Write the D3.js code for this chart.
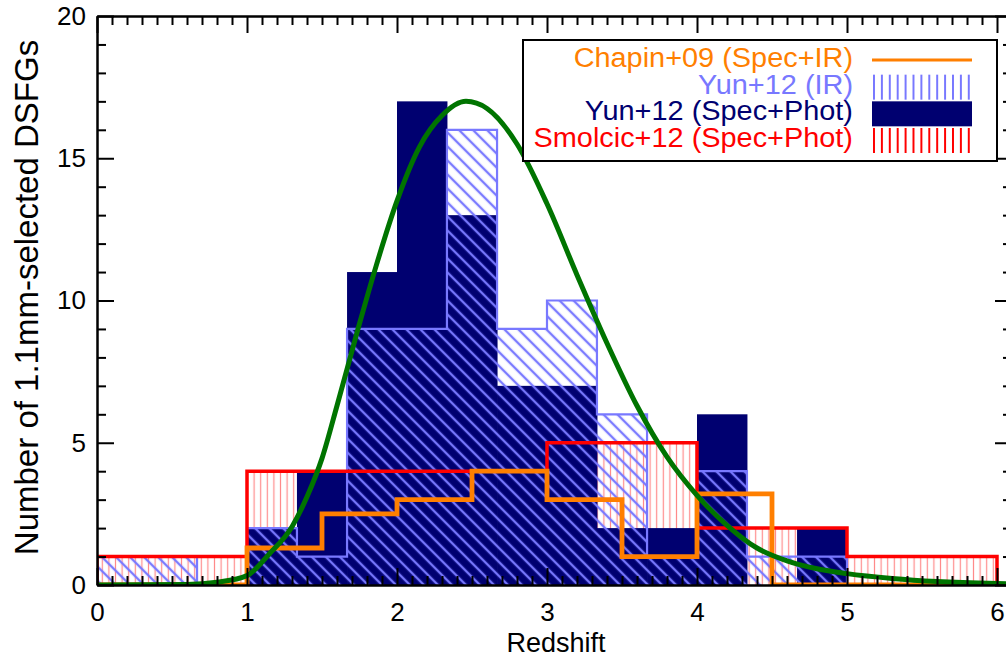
<!DOCTYPE html>
<html>
<head>
<meta charset="utf-8">
<script src="https://cdn.jsdelivr.net/npm/d3@7"></script>
<style>
  body { margin: 0; background: #fff; }
  svg { display: block; font-family: "Liberation Sans", Arial, Helvetica, sans-serif; }
</style>
</head>
<body>
<div id="chart"></div>
<script>
// Yun+12 histograms (bins of 1/3 in z)
const yunEdges = [0, 0.333, 0.667, 1, 1.333, 1.667, 2, 2.333, 2.667, 3, 3.333, 3.667, 4, 4.333, 4.667, 5];
const yunSpecPhot = [0, 0, 0, 2, 4, 11, 17, 13, 7, 7, 2, 2, 6, 0, 2];
const yunIR = [1, 1, 0, 2, 1, 9, 9, 16, 9, 10, 6, 1, 4, 1, 1];

// Smolcic+12 (bins of 1)
const smolcicEdges = [0, 1, 2, 3, 4, 5, 6];
const smolcic = [1, 4, 4, 5, 2, 1];

// Chapin+09 (bins of 0.5)
const chapinEdges = [0, 0.5, 1, 1.5, 2, 2.5, 3, 3.5, 4, 4.5, 5, 5.5, 6];
const chapin = [0, 0, 1.3, 2.5, 3, 4, 3, 1, 3.2, 0, 0, 0];

// model curve
const curveZ = [0, 0.6, 0.8, 1.0, 1.15, 1.3, 1.4, 1.5, 1.6, 1.74, 1.86, 2.0, 2.15, 2.3, 2.46, 2.6, 2.8, 3.0, 3.2, 3.4, 3.6, 3.8, 4.0, 4.2, 4.4, 4.6, 4.8, 5.0, 5.3, 5.6, 6.0, 6.1];
const curveN = [0, 0.02, 0.1, 0.33, 1.1, 2.05, 3.1, 4.45, 6.3, 9.0, 11.2, 13.5, 15.4, 16.5, 17.0, 16.75, 15.5, 13.4, 10.9, 8.5, 6.3, 4.5, 3.15, 2.1, 1.3, 0.85, 0.57, 0.4, 0.23, 0.12, 0.05, 0.04];

const xTicks = [0, 1, 2, 3, 4, 5, 6];
const yTicks = [0, 5, 10, 15, 20];

const legendItems = [
  { label: "Chapin+09 (Spec+IR)", color: "#ff7f00", kind: "line" },
  { label: "Yun+12 (IR)", color: "#7878ff", kind: "legIR" },
  { label: "Yun+12 (Spec+Phot)", color: "#000070", kind: "solid" },
  { label: "Smolcic+12 (Spec+Phot)", color: "#ff0000", kind: "legRed" },
];

const width = 1006, height = 658;
const navy = "#000070", light = "#7878ff", red = "#ff0000", orange = "#ff7f00", green = "#007400";

const svg = d3.select("#chart").append("svg").attr("width", width).attr("height", height);

const x = d3.scaleLinear().domain([0, 6.1]).range([97, 1012]);
const y = d3.scaleLinear().domain([0, 20]).range([585, 16]);

const defs = svg.append("defs");
defs.append("pattern")
  .attr("id", "blueHatch").attr("patternUnits", "userSpaceOnUse")
  .attr("width", 9.9).attr("height", 9.9).attr("patternTransform", "rotate(45)")
  .append("line").attr("x1", 0).attr("x2", 9.9).attr("y1", 4.95).attr("y2", 4.95)
  .attr("stroke", light).attr("stroke-width", 2.4);
defs.append("pattern")
  .attr("id", "redHatch").attr("patternUnits", "userSpaceOnUse")
  .attr("width", 6.6).attr("height", 10)
  .append("line").attr("x1", 3.3).attr("x2", 3.3).attr("y1", 0).attr("y2", 10)
  .attr("stroke", "#ff8a8a").attr("stroke-width", 1.2);
[["legIR", light], ["legRed", red]].forEach(([id, c]) => {
  defs.append("pattern")
    .attr("id", id).attr("patternUnits", "userSpaceOnUse")
    .attr("x", 873).attr("width", 7.9).attr("height", 10)
    .append("line").attr("x1", 1).attr("x2", 1).attr("y1", 0).attr("y2", 10)
    .attr("stroke", c).attr("stroke-width", 2);
});
defs.append("clipPath").attr("id", "plotClip")
  .append("rect").attr("x", 97).attr("y", 16).attr("width", 915).attr("height", 569);

// step outline of a histogram, closed down to zero at both ends
function stepPoints(edges, vals) {
  const pts = [[edges[0], 0]];
  vals.forEach((v, i) => {
    pts.push([edges[i], v]);
    pts.push([edges[i + 1], v]);
  });
  pts.push([edges[edges.length - 1], 0]);
  return pts;
}
const line = d3.line().x((d) => x(d[0])).y((d) => y(d[1]));

const plot = svg.append("g").attr("clip-path", "url(#plotClip)");

// Smolcic hatch
plot.append("path")
  .attr("d", line(stepPoints(smolcicEdges, smolcic)) + "Z")
  .attr("fill", "url(#redHatch)");

// Yun spec+phot solid bars
plot.selectAll(".navy")
  .data(yunSpecPhot)
  .enter()
  .append("rect")
  .attr("class", "navy")
  .attr("x", (d, i) => x(yunEdges[i]))
  .attr("width", (d, i) => x(yunEdges[i + 1]) - x(yunEdges[i]) + 0.5)
  .attr("y", (d) => y(d))
  .attr("height", (d) => y(0) - y(d))
  .attr("fill", navy);

// Yun IR hatch + outline
const irPts = stepPoints(yunEdges, yunIR);
plot.append("path").attr("d", line(irPts) + "Z").attr("fill", "url(#blueHatch)");
plot.append("path").attr("d", line(irPts))
  .attr("fill", "none").attr("stroke", light).attr("stroke-width", 2.2);

// Smolcic outline
plot.append("path").attr("d", line(stepPoints(smolcicEdges, smolcic)))
  .attr("fill", "none").attr("stroke", red).attr("stroke-width", 3.5);

// Chapin outline
plot.append("path").attr("d", line(stepPoints(chapinEdges, chapin)))
  .attr("fill", "none").attr("stroke", orange).attr("stroke-width", 4.8);

// model curve
const curveData = curveZ.map((z, i) => [z, curveN[i]]);
svg.append("path")
  .attr("d", line.curve(d3.curveMonotoneX)(curveData))
  .attr("fill", "none").attr("stroke", green).attr("stroke-width", 5)
  .attr("clip-path", "url(#plotClip)");

// axes
const minorX = x.ticks(61).filter((t) => Math.abs(t - Math.round(t)) > 1e-6);
const minorY = y.ticks(20).filter((t) => t % 5 !== 0);

function styleAxis(g, fontSize) {
  g.select(".domain").attr("stroke", "#000").attr("stroke-width", 2);
  g.selectAll(".tick line").attr("stroke", "#000").attr("stroke-width", 2);
  g.selectAll("text").attr("font-size", fontSize).attr("fill", "#000")
    .attr("font-family", "Liberation Sans, Arial, sans-serif");
}

const bottom = svg.append("g").attr("transform", `translate(0,${y(0)})`)
  .call(d3.axisBottom(x).tickValues(xTicks).tickFormat(d3.format("d"))
    .tickSizeInner(-17).tickSizeOuter(0).tickPadding(18));
styleAxis(bottom, 26);
svg.append("g").attr("transform", `translate(0,${y(0)})`)
  .call(d3.axisBottom(x).tickValues(minorX).tickFormat("").tickSizeInner(-9).tickSizeOuter(0))
  .call((g) => styleAxis(g, 0));

svg.append("g").attr("transform", `translate(0,${y(20)})`)
  .call(d3.axisTop(x).tickValues(xTicks).tickFormat("").tickSizeInner(-17).tickSizeOuter(0))
  .call((g) => styleAxis(g, 0));
svg.append("g").attr("transform", `translate(0,${y(20)})`)
  .call(d3.axisTop(x).tickValues(minorX).tickFormat("").tickSizeInner(-9).tickSizeOuter(0))
  .call((g) => styleAxis(g, 0));

const left = svg.append("g").attr("transform", `translate(${x(0)},0)`)
  .call(d3.axisLeft(y).tickValues(yTicks).tickSizeInner(-17).tickSizeOuter(0).tickPadding(11));
styleAxis(left, 26);
svg.append("g").attr("transform", `translate(${x(0)},0)`)
  .call(d3.axisLeft(y).tickValues(minorY).tickFormat("").tickSizeInner(-9).tickSizeOuter(0))
  .call((g) => styleAxis(g, 0));

svg.append("g").attr("transform", `translate(${x(6.1)},0)`)
  .call(d3.axisRight(y).tickValues(yTicks).tickFormat("").tickSizeInner(-17).tickSizeOuter(0))
  .call((g) => styleAxis(g, 0));
svg.append("g").attr("transform", `translate(${x(6.1)},0)`)
  .call(d3.axisRight(y).tickValues(minorY).tickFormat("").tickSizeInner(-9).tickSizeOuter(0))
  .call((g) => styleAxis(g, 0));

// axis titles
svg.append("text")
  .attr("x", (x(0) + x(6)) / 2 + 9).attr("y", 652)
  .attr("text-anchor", "middle").attr("font-size", 27)
  .text("Redshift");
svg.append("text")
  .attr("transform", `translate(38,${(y(0) + y(20)) / 2 - 3}) rotate(-90)`)
  .attr("text-anchor", "middle").attr("font-size", 33)
  .text("Number of 1.1mm-selected DSFGs");

// legend
const legend = svg.append("g");
legend.append("rect")
  .attr("x", 523).attr("y", 40).attr("width", 474).attr("height", 121)
  .attr("fill", "#fff").attr("stroke", "#000").attr("stroke-width", 2);

const rowY = d3.scalePoint().domain(legendItems.map((d) => d.label)).range([60, 140]);
legendItems.forEach((item) => {
  const cy = rowY(item.label);
  legend.append("text")
    .attr("transform", `translate(853,${cy + 7}) scale(1.07,1)`)
    .attr("text-anchor", "end")
    .attr("font-size", 27).attr("fill", item.color)
    .text(item.label);
  if (item.kind === "line") {
    legend.append("line")
      .attr("x1", 872).attr("x2", 972).attr("y1", cy).attr("y2", cy)
      .attr("stroke", item.color).attr("stroke-width", 3);
  } else {
    legend.append("rect")
      .attr("x", 872).attr("y", cy - 12).attr("width", 100).attr("height", 25)
      .attr("fill", item.kind === "solid" ? item.color : `url(#${item.kind})`);
  }
});
</script>
</body>
</html>
